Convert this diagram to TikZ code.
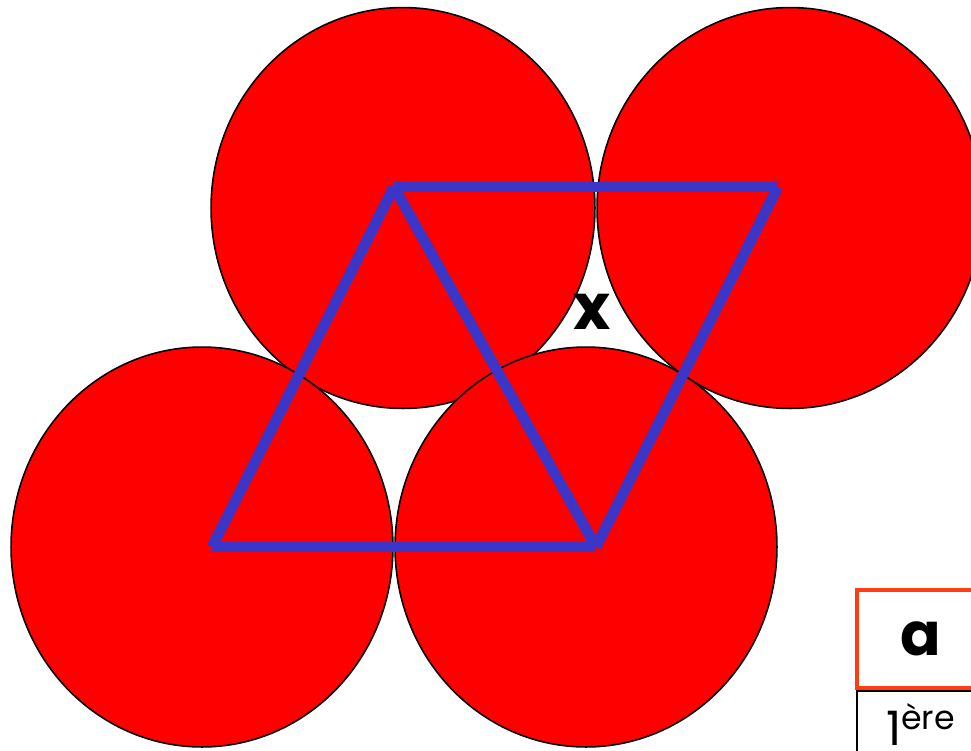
\documentclass[tikz,border=0pt]{standalone}
\usepackage{fontspec}
\setmainfont{Poppins}
\usetikzlibrary{positioning}
\definecolor{discred}{HTML}{FF0000}
\definecolor{rhombblue}{HTML}{3B35C8}
\definecolor{cellorange}{HTML}{FF3D10}

\begin{document}
\begin{tikzpicture}[x=0.02cm,y=-0.02cm,
    disc/.style={fill=discred,draw=black,line width=0.9pt},
    rib/.style={draw=rhombblue,line width=6.1pt},
    bigtxt/.style={font=\fontsize{36}{36}\selectfont\bfseries},
    headcell/.style={draw=cellorange,line width=2.3pt,minimum width=2.56cm,minimum height=1.96cm,
      inner sep=0pt,font=\fontsize{34}{34}\selectfont\bfseries},
    rowcell/.style={draw=black,line width=0.9pt,minimum width=2.56cm,minimum height=1.36cm,
      inner sep=0pt,font=\fontsize{27}{27}\selectfont}]
  \useasboundingbox (0,0) rectangle (971,751);
  \clip (0,0) rectangle (971,751);
  \filldraw[disc] (403,208) ellipse [x radius=3.84cm,y radius=4.01cm];
  \filldraw[disc] (790,208) ellipse [x radius=3.86cm,y radius=4.01cm];
  \filldraw[disc] (202,547) ellipse [x radius=3.82cm,y radius=4.0cm];
  \filldraw[disc] (586,547) ellipse [x radius=3.82cm,y radius=4.0cm];
  \coordinate (p1) at (212,547);
  \coordinate (p2) at (596,547);
  \coordinate (p3) at (778,187);
  \coordinate (p4) at (394,187);
  \draw[rib] (p1) -- (p2);
  \draw[rib] (p1) -- (p4);
  \draw[rib] (p4) -- (p3);
  \draw[rib] (p3) -- (p2);
  \draw[rib] (p4) -- (p2);
  \node[bigtxt] (gap) at (592,312) {x};
  \node[headcell] (acell) at (921,639) {a};
  \node[rowcell,below=0pt of acell] (rank) {1\textsuperscript{ère}};
\end{tikzpicture}
\end{document}
